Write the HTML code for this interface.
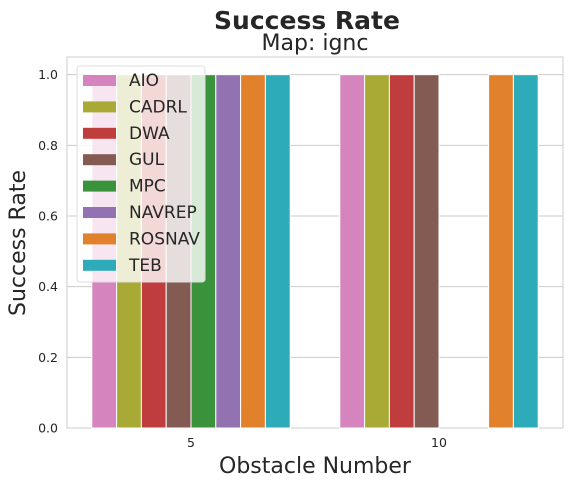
<!DOCTYPE html>
<html><head><meta charset="utf-8"><style>
body{margin:0;background:#fff;font-family:"Liberation Sans","DejaVu Sans",sans-serif}
svg text{font-family:"DejaVu Sans","Liberation Sans",sans-serif}
</style></head><body>
<svg id="c" width="573" height="486" xmlns="http://www.w3.org/2000/svg">
<rect width="573" height="486" fill="#fff"/>
<text x="307" y="29" text-anchor="middle" font-size="25" font-weight="bold" fill="#262626">Success Rate</text>
<text x="315" y="50" text-anchor="middle" font-size="22" fill="#262626">Map: ignc</text>
<text x="315" y="473" text-anchor="middle" font-size="22" fill="#262626">Obstacle Number</text>
<text transform="translate(25,243) rotate(-90)" text-anchor="middle" font-size="22" fill="#262626">Success Rate</text>
<g id="grid"></g><g id="bars"></g><g id="ticks"></g><g id="legend"></g>
</svg>
<script>
const categories=["5","10"];
const seriesNames=["AIO","CADRL","DWA","GUL","MPC","NAVREP","ROSNAV","TEB"];
const seriesColors=["#d684bd","#a9a935","#c03d3e","#845b53","#3a923a","#9372b2","#e1812c","#2eabb8"];
const values=[[1,1],[1,1],[1,1],[1,1],[1,null],[1,null],[1,1],[1,1]];
const yTicks=[0,0.2,0.4,0.6,0.8,1.0];
const NS="http://www.w3.org/2000/svg";
const L=67,R=563,T=57,B=428,yMax=1.05;
const y=v=>B-(v/yMax)*(B-T);
const band=(R-L)/categories.length;
const xc=i=>L+band*(i+0.5);
function mk(t,a,p){const e=document.createElementNS(NS,t);for(const k in a)e.setAttribute(k,a[k]);p.appendChild(e);return e;}
const g=document.getElementById('grid'),bg=document.getElementById('bars'),tg=document.getElementById('ticks'),lg=document.getElementById('legend');
mk('rect',{x:L,y:T,width:R-L,height:B-T,fill:'none',stroke:'#ccc','stroke-width':1},g);
yTicks.forEach(v=>{
 const ln=mk('line',{x1:L,x2:R,y1:y(v),y2:y(v),stroke:'#ccc','stroke-width':1},g);
 
 
 const t=mk('text',{x:L-9,y:y(v)+4.5,'text-anchor':'end','font-size':12.5,fill:'#262626'},tg);
 t.textContent=v.toFixed(1);
 
 
});
categories.forEach((c,i)=>{
 const t=mk('text',{x:xc(i),y:B+19,'text-anchor':'middle','font-size':12.5,fill:'#262626'},tg);
 t.textContent=c;
 
 
});
const gw=band*0.8,bw=gw/seriesNames.length;
seriesNames.forEach((s,si)=>{
 categories.forEach((c,ci)=>{
  const v=values[si][ci]; if(v==null)return;
  const x0=xc(ci)-gw/2+si*bw;
  const r=mk('rect',{x:x0,y:y(v),width:bw,height:B-y(v),fill:seriesColors[si],stroke:'#fff','stroke-width':1},bg);
  
  
 });
});
const box=mk('rect',{x:77,y:66,width:128,height:216,rx:3,fill:'#fff','fill-opacity':0.8,stroke:'#ddd'},lg);


seriesNames.forEach((s,i)=>{
 const yy=80+i*26.4;
 const p=mk('rect',{x:83,y:yy-5,width:33,height:11,fill:seriesColors[i]},lg);
 
 
 const t=mk('text',{x:129,y:yy+6,'font-size':17,fill:'#262626'},lg);
 t.textContent=s;
 
 
});
</script>
</body></html>
